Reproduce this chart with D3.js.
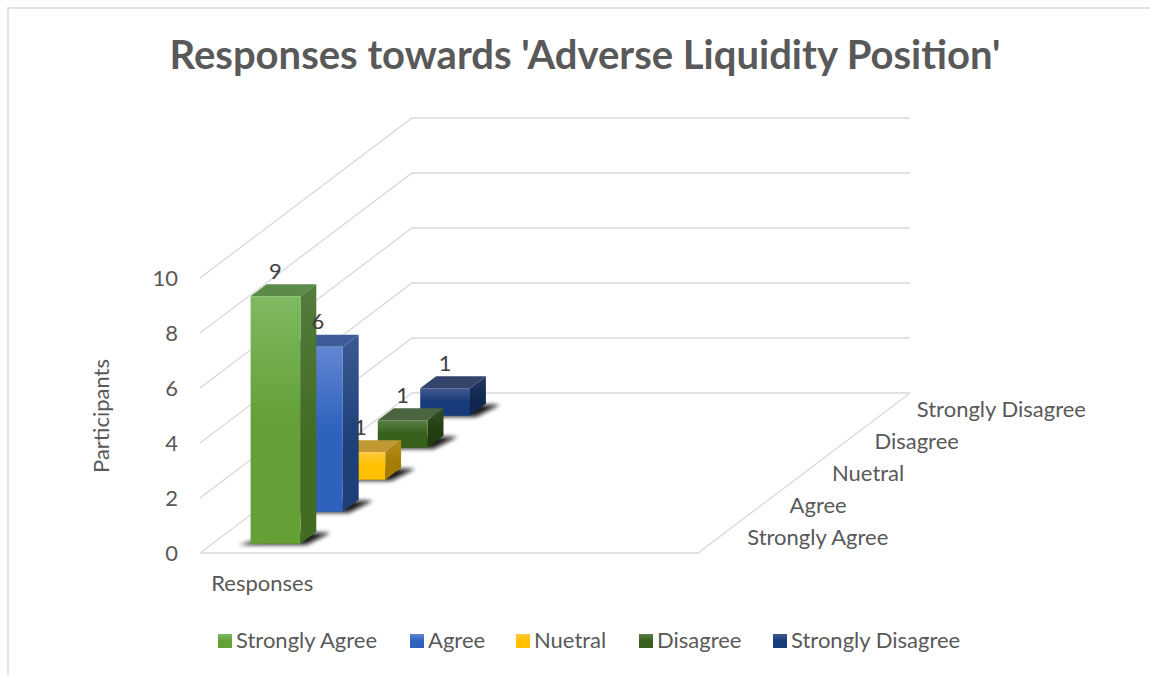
<!DOCTYPE html>
<html>
<head>
<meta charset="utf-8">
<script src="https://d3js.org/d3.v7.min.js"></script>
<style>
  body { margin: 0; background: #fff; }
  text { font-family: Lato, "Open Sans", sans-serif; fill: #595959; }
</style>
</head>
<body>
<div id="chart"></div>
<script>
const categories = ["Strongly Agree", "Agree", "Nuetral", "Disagree", "Strongly Disagree"];
const participants = [9, 6, 1, 1, 1];
const xSlots = ["Responses", "", " ", "  "];
const yTicks = [0, 2, 4, 6, 8, 10];

// light, base, side light, side dark, top per series
const palette = [
  ["#7fb961", "#64a036", "#547c3c", "#426c24", "#5c8a48"],
  ["#6286d2", "#2f62bd", "#3c5a92", "#1d4079", "#3f5c9a"],
  ["#ffc93a", "#ffc000", "#b58d1e", "#a47c00", "#c29a33"],
  ["#5b7f48", "#375f1b", "#324f24", "#213d10", "#4a6540"],
  ["#42598f", "#173a7a", "#263a63", "#10264e", "#34436b"]
];

const width = 1150, height = 675;
const floor = {x: 200, y: 553, w: 498, dx: 212, dy: 160};
const labelSize = "22px";

const svg = d3.select("#chart").append("svg")
  .attr("width", width)
  .attr("height", height)
  .style("display", "block");

const defs = svg.append("defs");

palette.forEach((p, i) => {
  const grad = defs.append("linearGradient")
    .attr("id", "front" + i)
    .attr("x1", 0).attr("y1", 0).attr("x2", 0).attr("y2", 1);
  grad.append("stop").attr("offset", "0%").attr("stop-color", p[0]);
  grad.append("stop").attr("offset", "50%").attr("stop-color", p[1]);
  grad.append("stop").attr("offset", "100%").attr("stop-color", p[1]);

  const side = defs.append("linearGradient")
    .attr("id", "side" + i)
    .attr("x1", 0).attr("y1", 0).attr("x2", 0).attr("y2", 1);
  side.append("stop").attr("offset", "0%").attr("stop-color", p[2]);
  side.append("stop").attr("offset", "60%").attr("stop-color", p[3]);
});

defs.append("filter").attr("id", "blur")
  .attr("x", "-30%").attr("y", "-60%").attr("width", "160%").attr("height", "220%")
  .append("feGaussianBlur").attr("stdDeviation", 2.2);

const x = d3.scaleBand().domain(xSlots).range([0, floor.w]).paddingInner(0.6).paddingOuter(0.3);
const y = d3.scaleLinear().domain([0, 10]).range([0, 275]);
const depth = d3.scaleBand().domain(categories).range([0, 1]).paddingInner(0.625).paddingOuter(0.3125);

// x along the floor, v up the wall, d into the chart (0..1)
function project(xf, v, d) {
  return [floor.x + xf + d * floor.dx, floor.y - d * floor.dy - y(v)];
}
const poly = pts => pts.map(p => p.join(",")).join(" ");

// chart frame, only top and left show in the picture
svg.append("path")
  .attr("d", `M8,675V8H${width}`)
  .attr("fill", "none")
  .attr("stroke", "#d9d9d9")
  .attr("stroke-width", 1.5);

svg.append("text")
  .attr("x", 585).attr("y", 69)
  .attr("text-anchor", "middle")
  .style("font-size", "40px")
  .style("font-weight", 700)
  .text("Responses towards 'Adverse Liquidity Position'");

// walls
const grid = svg.append("g").attr("fill", "none").attr("stroke", "#d9d9d9").attr("stroke-width", 1.3);
yTicks.forEach(t => {
  grid.append("polyline")
    .attr("points", poly([project(0, t, 0), project(0, t, 1), project(floor.w, t, 1)]));
});
grid.append("polyline")
  .attr("points", poly([project(0, 0, 0), project(floor.w, 0, 0), project(floor.w, 0, 1)]));

// y axis
const yAxis = svg.append("g")
  .attr("transform", `translate(${floor.x - 22},${floor.y})`)
  .call(d3.axisLeft(d3.scaleLinear().domain([0, 10]).range([0, -275]))
    .tickValues(yTicks).tickSize(0).tickPadding(0));
yAxis.select(".domain").remove();
yAxis.selectAll("text").style("font-size", labelSize).style("fill", "#595959").style("font-family", "Lato");

svg.append("text")
  .attr("transform", "translate(109,416) rotate(-90)")
  .attr("text-anchor", "middle")
  .style("font-size", labelSize)
  .text("Participants");

svg.append("text")
  .attr("x", floor.x + x(xSlots[0]) + x.bandwidth() / 2)
  .attr("y", 591)
  .attr("text-anchor", "middle")
  .style("font-size", labelSize)
  .text(xSlots[0]);

// depth axis labels
svg.append("g").selectAll("text").data(categories).join("text")
  .attr("x", d => project(floor.w, 0, depth(d) + depth.bandwidth() / 2)[0] + 28)
  .attr("y", d => project(floor.w, 0, depth(d) + depth.bandwidth() / 2)[1] + 8)
  .style("font-size", labelSize)
  .text(d => d);

// bars, back to front
const x0 = x(xSlots[0]), x1 = x0 + x.bandwidth();
const rows = categories.map((c, i) => ({c, i, v: participants[i]})).reverse();

const bars = svg.append("g").attr("transform", "translate(0,0.7)").selectAll("g").data(rows).join("g");

bars.append("polygon")
  .attr("points", d => {
    const d0 = depth(d.c), d1 = d0 + depth.bandwidth();
    const [ax, ay] = project(x0, 0, d0), [bx] = project(x1, 0, d0), [cx, cy] = project(x1, 0, d1);
    return poly([[ax - 12, ay + 1], [bx + 6, ay + 1], [cx + 14, cy + 1], [cx - 30, cy + 1]]);
  })
  .attr("fill", "#111")
  .attr("opacity", 0.95)
  .attr("filter", "url(#blur)");

bars.append("polygon")
  .attr("points", d => {
    const d0 = depth(d.c), d1 = d0 + depth.bandwidth();
    return poly([project(x1, 0, d0), project(x1, 0, d1), project(x1, d.v, d1), project(x1, d.v, d0)]);
  })
  .attr("fill", d => `url(#side${d.i})`);

bars.append("polygon")
  .attr("points", d => {
    const d0 = depth(d.c), d1 = d0 + depth.bandwidth();
    return poly([project(x0, d.v, d0), project(x1, d.v, d0), project(x1, d.v, d1), project(x0, d.v, d1)]);
  })
  .attr("fill", d => palette[d.i][4]);

bars.append("polygon")
  .attr("points", d => {
    const d0 = depth(d.c);
    return poly([project(x0, 0, d0), project(x1, 0, d0), project(x1, d.v, d0), project(x0, d.v, d0)]);
  })
  .attr("fill", d => `url(#front${d.i})`);

// value labels go on top of everything
svg.append("g").selectAll("text").data(rows).join("text")
  .attr("x", d => project((x0 + x1) / 2, d.v, depth(d.c))[0])
  .attr("y", d => project((x0 + x1) / 2, d.v, depth(d.c))[1] - 17)
  .attr("text-anchor", "middle")
  .style("font-size", labelSize)
  .style("fill", "#404040")
  .text(d => d.v);

// legend
const legendX = [218, 410, 516, 639, 773];
const legend = svg.append("g").selectAll("g").data(categories).join("g")
  .attr("transform", (d, i) => `translate(${legendX[i]},634)`);
legend.append("rect")
  .attr("width", 14).attr("height", 14)
  .attr("fill", (d, i) => `url(#front${i})`);
legend.append("text")
  .attr("x", 18).attr("y", 14)
  .style("font-size", labelSize)
  .text(d => d);
</script>
</body>
</html>
